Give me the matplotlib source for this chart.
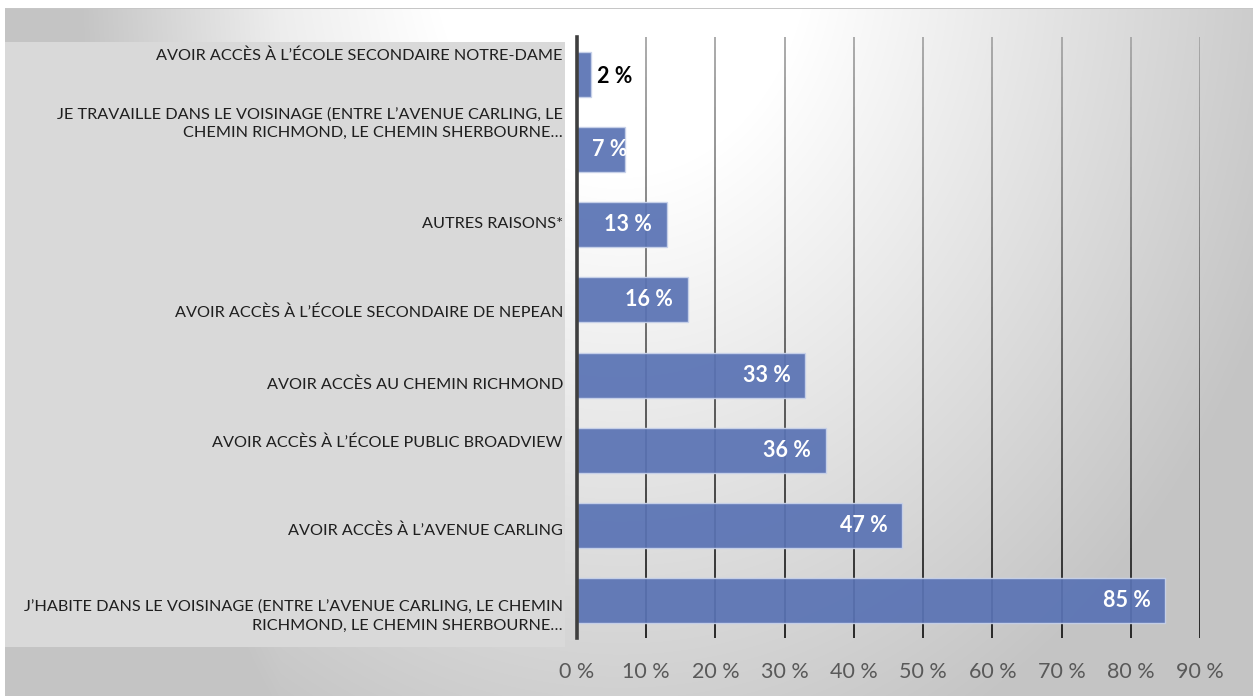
import numpy as np
import matplotlib
matplotlib.use("Agg")
import matplotlib.pyplot as plt
import matplotlib.transforms as mtransforms
from matplotlib.collections import LineCollection
from matplotlib.patches import Rectangle

# reasons, top to bottom as shown
reasons = [
    "AVOIR ACCÈS À L’ÉCOLE SECONDAIRE NOTRE-DAME",
    "JE TRAVAILLE DANS LE VOISINAGE (ENTRE L’AVENUE CARLING, LE\nCHEMIN RICHMOND, LE CHEMIN SHERBOURNE…",
    "AUTRES RAISONS*",
    "AVOIR ACCÈS À L’ÉCOLE SECONDAIRE DE NEPEAN",
    "AVOIR ACCÈS AU CHEMIN RICHMOND",
    "AVOIR ACCÈS À L’ÉCOLE PUBLIC BROADVIEW",
    "AVOIR ACCÈS À L’AVENUE CARLING",
    "J’HABITE DANS LE VOISINAGE (ENTRE L’AVENUE CARLING, LE CHEMIN\nRICHMOND, LE CHEMIN SHERBOURNE…",
]
pct = [2, 7, 13, 16, 33, 36, 47, 85]
x_ticks = [0, 10, 20, 30, 40, 50, 60, 70, 80, 90]

# the category labels in the original sit a little off their bars (pixels, + = down)
label_dy = [-19, -26, -1, 13, 10, -7, 5, 16]

FONT = "Lato"
W, H = 1253, 696
fig = plt.figure(figsize=(W / 100, H / 100), dpi=100)
fig.patch.set_facecolor("white")

# background gradient (white glow near the top, grey towards the edges)
bg = fig.add_axes([0, 0, 1, 1], zorder=-10)
yy, xx = np.mgrid[0:H, 0:W]
d = np.sqrt((xx - 620.0) ** 2 + (0.8 * (yy + 60.0)) ** 2)
t = np.clip((d - 190) / 520, 0, 1)
t = np.clip(t + 0.45 * np.clip((280 - xx) / 280, 0, 1), 0, 1)
shade = 1 - t * 0.23
shade[(yy < 8) | (xx < 5)] = 1.0
shade[(yy == 8) & (xx >= 5)] = 0.78
bg.imshow(np.dstack([shade] * 3), extent=[0, W, H, 0], aspect="auto", interpolation="bilinear")
bg.set_xlim(0, W)
bg.set_ylim(H, 0)
bg.axis("off")

# grey panel behind the category labels
bg.add_patch(Rectangle((5, 42), 560, 605, facecolor="#d9d9d9", edgecolor="none"))

ax = fig.add_axes([577 / W, (H - 638) / H, 623 / W, 601 / H])
ax.patch.set_alpha(0)

ypos = np.arange(len(pct))
ax.set_xlim(x_ticks[0], x_ticks[-1])
ax.set_ylim(len(pct) - 0.5, -0.5)

# gridlines fading from light grey at the top to near black at the bottom
nseg = 60
fr = np.linspace(0, 1, nseg + 1)
segs, cols = [], []
for xv in x_ticks[1:]:
    for i in range(nseg):
        segs.append([(xv, fr[i]), (xv, fr[i + 1])])
        g = 0.10 + 0.55 * (fr[i] + fr[i + 1]) / 2
        cols.append((g, g, g))
lc = LineCollection(segs, colors=cols, linewidths=1.3, transform=ax.get_xaxis_transform(), zorder=1)
ax.add_collection(lc)

ax.barh(ypos, pct, height=0.6, color="#5a73b4", alpha=0.93, edgecolor="#c8d2ea",
        linewidth=1.0, zorder=2)

for sp in ["top", "right", "bottom"]:
    ax.spines[sp].set_visible(False)
ax.spines["left"].set_color("#3f3f3f")
ax.spines["left"].set_linewidth(2.6)
ax.spines["left"].set_zorder(5)

ax.set_xticks(x_ticks)
ax.set_xticklabels([f"{v} %" for v in x_ticks], fontsize=15.5, color="#595959", family=FONT)
ax.tick_params(axis="x", length=0, pad=17)
ax.set_yticks([])

# category labels
for y, lab, dy in zip(ypos, reasons, label_dy):
    tr = mtransforms.offset_copy(ax.get_yaxis_transform(), fig=fig, x=-14, y=-dy, units="dots")
    ax.text(0, y, lab, transform=tr, ha="right", va="center", fontsize=11.7,
            family=FONT, color="#1f1f1f", linespacing=1.45)

# value labels
for y, v in zip(ypos, pct):
    txt = f"{v} %"
    kw = dict(fontsize=15.5, fontweight="bold", family=FONT, va="center", zorder=6)
    if v < 5:
        tr = mtransforms.offset_copy(ax.transData, fig=fig, x=6, y=-2, units="dots")
        ax.text(v, y, txt, transform=tr, ha="left", color="black", **kw)
    elif v < 10:
        tr = mtransforms.offset_copy(ax.transData, fig=fig, x=15, y=0, units="dots")
        ax.text(0, y, txt, transform=tr, ha="left", color="white", **kw)
    else:
        tr = mtransforms.offset_copy(ax.transData, fig=fig, x=-15, y=0, units="dots")
        ax.text(v, y, txt, transform=tr, ha="right", color="white", **kw)

fig.savefig("out.png", dpi=100)
